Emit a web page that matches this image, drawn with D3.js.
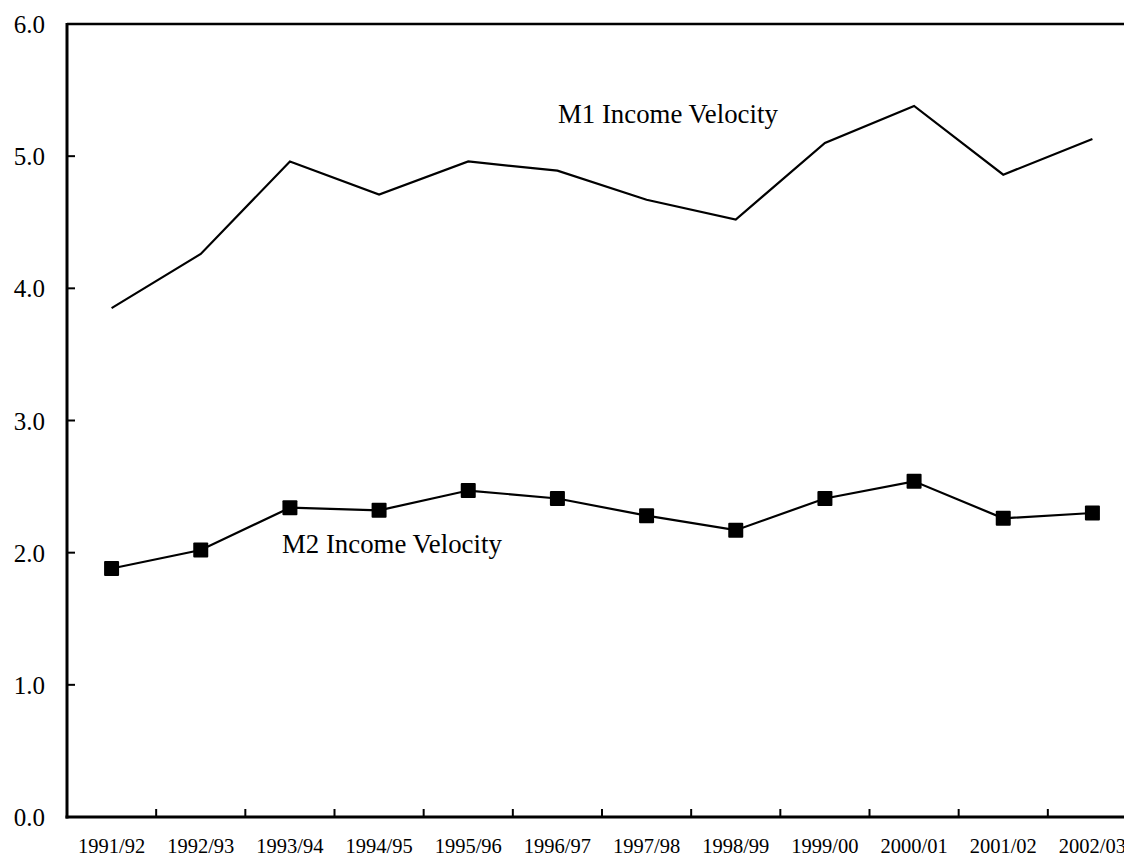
<!DOCTYPE html>
<html>
<head>
<meta charset="utf-8">
<script src="https://d3js.org/d3.v7.min.js"></script>
<style>
  body { margin: 0; background: #fff; }
  text { font-family: "Liberation Serif", "Times New Roman", serif; fill: #000; }
</style>
</head>
<body>
<svg width="1124" height="858"></svg>
<script>
// data
var years = ["1991/92", "1992/93", "1993/94", "1994/95", "1995/96", "1996/97",
             "1997/98", "1998/99", "1999/00", "2000/01", "2001/02", "2002/03"];
var m1 = [3.85, 4.26, 4.96, 4.71, 4.96, 4.89, 4.67, 4.52, 5.10, 5.38, 4.86, 5.13];
var m2 = [1.88, 2.02, 2.34, 2.32, 2.47, 2.41, 2.28, 2.17, 2.41, 2.54, 2.26, 2.30];
var yTicks = [0, 1, 2, 3, 4, 5, 6];

var svg = d3.select("svg");

var plotLeft = 67, plotRight = 1137, plotTop = 24, plotBottom = 817;

var x = d3.scaleBand().domain(years).range([plotLeft, plotRight]);
var y = d3.scaleLinear().domain([0, 6]).range([plotBottom, plotTop]);

// frame: top line
svg.append("line")
  .attr("x1", plotLeft).attr("x2", 1124)
  .attr("y1", plotTop).attr("y2", plotTop)
  .attr("stroke", "#000").attr("stroke-width", 2.5);

// y axis
var yAxis = svg.append("g");
yAxis.append("line")
  .attr("x1", plotLeft).attr("x2", plotLeft)
  .attr("y1", plotTop - 1).attr("y2", plotBottom + 1.5)
  .attr("stroke", "#000").attr("stroke-width", 3);
yAxis.selectAll(".yt").data(yTicks).enter().append("line")
  .attr("x1", plotLeft).attr("x2", plotLeft + 8)
  .attr("y1", function(d) { return y(d); })
  .attr("y2", function(d) { return y(d); })
  .attr("stroke", "#000").attr("stroke-width", 2);
yAxis.selectAll(".yl").data(yTicks).enter().append("text")
  .attr("x", 45)
  .attr("y", function(d) { return y(d); })
  .attr("dy", "0.36em")
  .attr("text-anchor", "end")
  .style("font-size", "25px")
  .text(function(d) { return d.toFixed(1); });

// x axis
var xAxis = svg.append("g");
xAxis.append("line")
  .attr("x1", plotLeft - 1.5).attr("x2", 1124)
  .attr("y1", plotBottom).attr("y2", plotBottom)
  .attr("stroke", "#000").attr("stroke-width", 3);
xAxis.selectAll(".xt").data(years.slice(1)).enter().append("line")
  .attr("x1", function(d) { return x(d); })
  .attr("x2", function(d) { return x(d); })
  .attr("y1", plotBottom).attr("y2", plotBottom - 8)
  .attr("stroke", "#000").attr("stroke-width", 2);
xAxis.selectAll(".xl").data(years).enter().append("text")
  .attr("x", function(d) { return x(d) + x.bandwidth() / 2; })
  .attr("y", 853)
  .attr("text-anchor", "middle")
  .style("font-size", "20.5px")
  .text(function(d) { return d; });

var line = d3.line()
  .x(function(d, i) { return x(years[i]) + x.bandwidth() / 2; })
  .y(function(d) { return y(d); });

// M1
svg.append("path")
  .attr("d", line(m1))
  .attr("fill", "none").attr("stroke", "#000").attr("stroke-width", 2.2);

// M2
svg.append("path")
  .attr("d", line(m2))
  .attr("fill", "none").attr("stroke", "#000").attr("stroke-width", 2.2);
svg.selectAll(".m2pt").data(m2).enter().append("rect")
  .attr("x", function(d, i) { return x(years[i]) + x.bandwidth() / 2 - 7.5; })
  .attr("y", function(d) { return y(d) - 7.5; })
  .attr("width", 15).attr("height", 15)
  .attr("rx", 1)
  .attr("fill", "#000");

// series labels
svg.append("text")
  .attr("x", 558).attr("y", 123)
  .style("font-size", "26.8px")
  .text("M1 Income Velocity");
svg.append("text")
  .attr("x", 282).attr("y", 553)
  .style("font-size", "26.8px")
  .text("M2 Income Velocity");
</script>
</body>
</html>
